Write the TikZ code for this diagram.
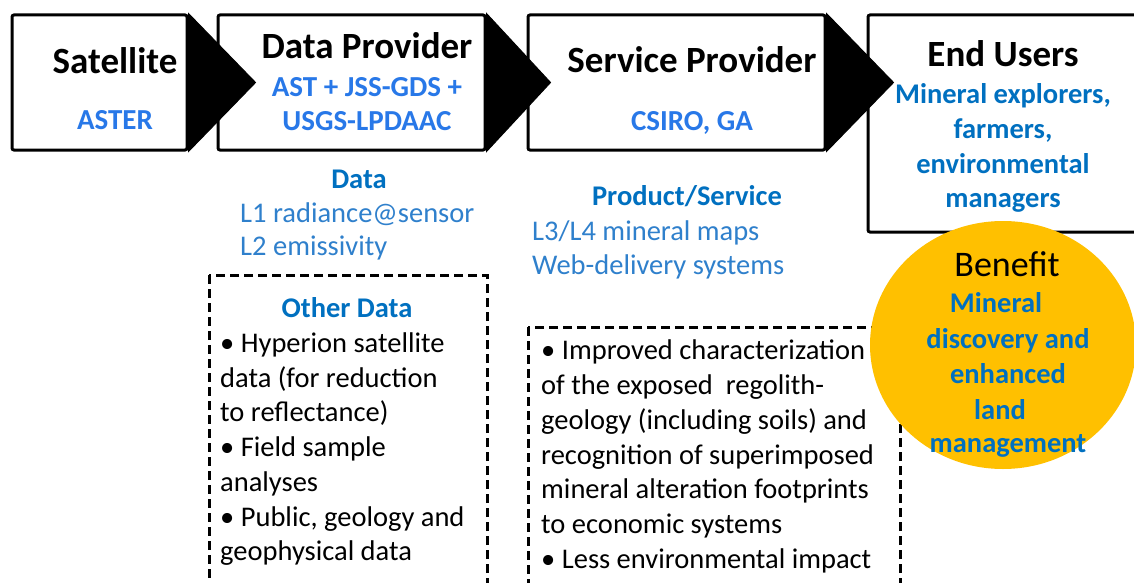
\documentclass[tikz,border=0pt]{standalone}
\usepackage{fontspec}
\setmainfont{Carlito}
\usetikzlibrary{calc,shapes.geometric}
\definecolor{boxblue}{HTML}{2878E8}
\definecolor{offblue}{HTML}{0070C0}
\definecolor{liteblue}{HTML}{2F80CC}
\definecolor{gold}{HTML}{FFC000}
\begin{document}
\begin{tikzpicture}[x=1pt,y=-1pt,
  box/.style={draw=black,line width=3pt,fill=white,rounded corners=2pt,inner sep=0pt},
  dbox/.style={draw=black,line width=3pt,dash pattern=on 9pt off 5pt},
  ttl/.style={font=\fontsize{37}{42}\selectfont\bfseries,anchor=base,inner sep=0pt},
  bt/.style={font=\fontsize{29}{34}\selectfont\bfseries,text=boxblue,anchor=base,inner sep=0pt},
  ot/.style={font=\fontsize{28.5}{34}\selectfont\bfseries,text=offblue,anchor=base,inner sep=0pt},
  lt/.style={font=\fontsize{28.5}{34}\selectfont,text=liteblue,anchor=base west,inner sep=0pt},
  body/.style={font=\fontsize{28.5}{34}\selectfont,text=black,anchor=base west,inner sep=0pt},
  tri/.style={fill=black,draw=black,line width=1pt,line join=miter}
]
\useasboundingbox (0,0) rectangle (1134,583);
\clip (0,0) rectangle (1134,583);
\fill[white] (0,0) rectangle (1134,583);

% top boxes
\node[box,minimum width=175pt,minimum height=135pt] (sat) at (99.5,82.5) {};
\node[box,minimum width=267pt,minimum height=135pt] (dp) at (351.5,82.5) {};
\node[box,minimum width=297pt,minimum height=135pt] (sp) at (676.5,82.5) {};
\node[box,minimum width=277pt,minimum height=217pt] (eu) at (1006.5,123.5) {};

% arrow heads
\coordinate (tip1) at ($(sat.east)+(67,0)$);
\coordinate (tip2) at ($(dp.east)+(64,0)$);
\coordinate (tip3) at ($(sp.east)+(67,0)$);
\fill[tri] (sat.north east) -- (tip1) -- (sat.south east) -- cycle;
\fill[tri] (dp.north east) -- (tip2) -- (dp.south east) -- cycle;
\fill[tri] (sp.north east) -- (tip3) -- (sp.south east) -- cycle;

% box texts
\node[ttl] (satT) at (115,74) {Satellite};
\node[bt] (satB) at (115,129) {ASTER};
\node[ttl] (dpT) at (367,59) {Data Provider};
\node[bt] (dpB1) at (367,97) {AST + JSS-GDS +};
\node[bt] (dpB2) at (367,131) {USGS-LPDAAC};
\node[ttl] (spT) at (692,73) {Service Provider};
\node[bt] (spB) at (692,130) {CSIRO, GA};
\node[ttl] (euT) at (1003,67) {End Users};
\node[ot] (eu1) at (1003,104) {Mineral explorers,};
\node[ot] (eu2) at (1003,139) {farmers,};
\node[ot] (eu3) at (1003,173) {environmental};
\node[ot] (eu4) at (1003,207) {managers};

% data
\node[ot] (dataT) at (359,188) {Data};
\node[lt] (d1) at (240,222) {L1 radiance@sensor};
\node[lt] (d2) at (240,255) {L2 emissivity};

% product/service
\node[ot] (psT) at (687,205) {Product/Service};
\node[lt] (p1) at (532,240) {L3/L4 mineral maps};
\node[lt] (p2) at (532,274) {Web-delivery systems};

% dashed boxes
\draw[dbox] (209,275) rectangle (487,600);
\draw[dbox] (528,327) rectangle (900,600);

\node[ot] (odT) at (347,317) {Other Data};
\node[body] (o1) at (220,352) {• Hyperion satellite};
\node[body] (o2) at (220,387) {data (for reduction};
\node[body] (o3) at (220,421) {to reflectance)};
\node[body] (o4) at (220,456) {• Field sample};
\node[body] (o5) at (220,491) {analyses};
\node[body] (o6) at (220,526) {• Public, geology and};
\node[body] (o7) at (220,560) {geophysical data};

\node[body] (s1) at (541,359) {• Improved characterization};
\node[body] (s2) at (541,394) {of the exposed\ \ regolith-};
\node[body] (s3) at (541,429) {geology (including soils) and};
\node[body] (s4) at (541,464) {recognition of superimposed};
\node[body] (s5) at (541,498) {mineral alteration footprints};
\node[body] (s6) at (541,533) {to economic systems};
\node[body] (s7) at (541,568) {• Less environmental impact};

% benefit
\node[ellipse,fill=gold,minimum width=266pt,minimum height=248pt,inner sep=0pt] (ben) at (1003,345) {};
\node[font=\fontsize{36}{40}\selectfont,anchor=base,inner sep=0pt] (benT) at (1007,276) {Benefit};
\node[ot] (b1) at (996,312) {Mineral};
\node[ot] (b2) at (1008,348) {discovery and};
\node[ot] (b3) at (1008,383) {enhanced};
\node[ot] (b4) at (1000,419) {land};
\node[ot] (b5) at (1008,452) {management};
\end{tikzpicture}
\end{document}
